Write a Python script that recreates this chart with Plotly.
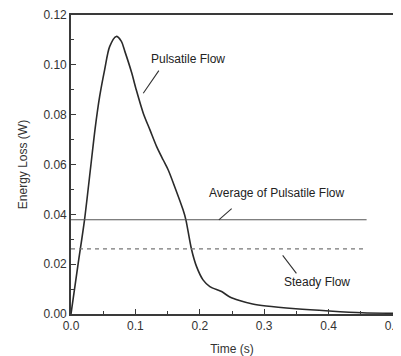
import plotly.graph_objects as go

# Data
time_s = [0, 0.011, 0.021, 0.031, 0.0375, 0.0445, 0.0522, 0.060, 0.0703, 0.078,
          0.0835, 0.094, 0.1013, 0.1122, 0.1226, 0.133, 0.1432, 0.151, 0.161, 0.174,
          0.1784, 0.187, 0.195, 0.205, 0.2156, 0.2338, 0.2467, 0.2616, 0.282, 0.303,
          0.349, 0.401, 0.452, 0.5]
energy_pulsatile = [0, 0.020, 0.0378, 0.060, 0.0745, 0.0873, 0.098, 0.1073, 0.1114, 0.1095,
                    0.1055, 0.097, 0.090, 0.0806, 0.0739, 0.0672, 0.0618, 0.0578, 0.0511, 0.0418,
                    0.0378, 0.0261, 0.019, 0.0137, 0.011, 0.009, 0.0068, 0.0054, 0.004, 0.0032,
                    0.0021, 0.0012, 0.0005, 0.0003]
avg_time = [0, 0.459]
avg_pulsatile = [0.0378, 0.0378]
steady_time = [0, 0.459]
steady_flow = [0.0261, 0.0261]

x_ticks = [0.0, 0.1, 0.2, 0.3, 0.4, 0.5]
y_ticks = [0.00, 0.02, 0.04, 0.06, 0.08, 0.10, 0.12]

FONT = "Liberation Sans, Arial, sans-serif"
AX = "#3a3a3a"

fig = go.Figure()
fig.add_trace(go.Scatter(x=time_s, y=energy_pulsatile, mode="lines",
                         line=dict(color="#2a2a2a", width=1.6, shape="spline", smoothing=0.8),
                         showlegend=False))
fig.add_trace(go.Scatter(x=avg_time, y=avg_pulsatile, mode="lines",
                         line=dict(color="#555555", width=1.1), showlegend=False))
fig.add_trace(go.Scatter(x=steady_time, y=steady_flow, mode="lines",
                         line=dict(color="#777777", width=1.2, dash="4px,4px"), showlegend=False))

ann_font = dict(family=FONT, size=12, color="#222222")
# Pulsatile Flow label + leader line
fig.add_annotation(x=0.1122, y=0.0886, ax=0.138, ay=0.0983, xref="x", yref="y",
                   axref="x", ayref="y", text="", showarrow=True, arrowhead=0,
                   arrowwidth=1.1, arrowcolor="#333333")
fig.add_annotation(x=0.121, y=0.1024, text="Pulsatile Flow", showarrow=False,
                   xanchor="left", yanchor="middle", font=ann_font)
# Average label
fig.add_annotation(x=0.2296, y=0.0378, ax=0.2518, ay=0.0428, xref="x", yref="y",
                   axref="x", ayref="y", text="", showarrow=True, arrowhead=0,
                   arrowwidth=1.1, arrowcolor="#333333")
fig.add_annotation(x=0.2105, y=0.0487, text="Average of Pulsatile Flow", showarrow=False,
                   xanchor="left", yanchor="middle", font=ann_font)
# Steady label
fig.add_annotation(x=0.350, y=0.0163, ax=0.3269, ay=0.0241, xref="x", yref="y",
                   axref="x", ayref="y", text="", showarrow=True, arrowhead=0,
                   arrowwidth=1.1, arrowcolor="#333333")
fig.add_annotation(x=0.3269, y=0.0130, text="Steady Flow", showarrow=False,
                   xanchor="left", yanchor="middle", font=ann_font)

fig.update_xaxes(range=[0, 0.5], tickvals=x_ticks, ticktext=[f"{v:.1f}" for v in x_ticks],
                 ticks="inside", ticklen=5, tickwidth=1.2, tickcolor=AX,
                 minor=dict(ticks="inside", ticklen=3, tickwidth=1.1, tickcolor=AX, dtick=0.05, tick0=0),
                 showline=True, linecolor=AX, linewidth=1.6, mirror=True,
                 showgrid=False, zeroline=False, automargin=False, ticklabeloverflow="allow",
                 tickfont=dict(family=FONT, size=12, color="#333333"),
                 title=dict(text="Time (s)", font=dict(family=FONT, size=12, color="#333333"), standoff=13))
fig.update_yaxes(range=[0, 0.12], tickvals=y_ticks, ticktext=[f"{v:.2f}" for v in y_ticks],
                 ticks="inside", ticklen=5, tickwidth=1.2, tickcolor=AX,
                 minor=dict(ticks="inside", ticklen=3, tickwidth=1.1, tickcolor=AX, dtick=0.01, tick0=0),
                 showline=True, linecolor=AX, linewidth=1.6, mirror=True,
                 showgrid=False, zeroline=False, automargin=False,
                 tickfont=dict(family=FONT, size=12, color="#333333"),
                 title=dict(text="Energy Loss (W)", font=dict(family=FONT, size=12, color="#333333"), standoff=13))

# The page body adds an 8px margin, so the figure is offset by 8px in the window
fig.update_layout(width=393, height=348, margin=dict(l=63, r=8, t=7, b=42),
                  paper_bgcolor="white", plot_bgcolor="white")

fig.write_html("out.html")
